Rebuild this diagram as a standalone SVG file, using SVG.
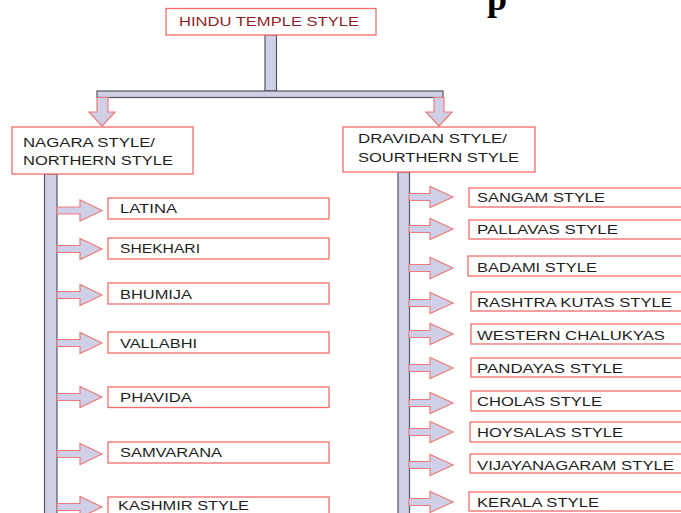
<svg xmlns="http://www.w3.org/2000/svg" xmlns:xlink="http://www.w3.org/1999/xlink" width="681" height="513" viewBox="0 0 681 513">
<style>
.box{fill:#ffffff;stroke:#f36b6b;stroke-width:1.3}
.t{font-family:"Liberation Sans",Arial,sans-serif;font-size:12.5px;fill:#1e1e1e}
.tr{font-family:"Liberation Sans",Arial,sans-serif;font-size:12.5px;fill:#8e1f27}
.bar{fill:#cfcfe8;stroke:#555560;stroke-width:1.2}
.arr{fill:#cfcfe8;stroke:#ec7c7c;stroke-width:1.2}
</style>
<defs>
<path id="aL" d="M57,-3.5 H80 V-10.5 L102,0 L80,10.5 V3.5 H57 Z"/>
<path id="aR" d="M409,-3.5 H430 V-10.5 L453,0 L430,10.5 V3.5 H409 Z"/>
</defs>
<text x="487" y="10" font-family="Liberation Serif,serif" font-weight="bold" font-size="36" fill="#000">p</text>
<g id="connectors">
<rect class="bar" x="265" y="35" width="11.5" height="56"/>
<rect class="bar" x="97" y="91" width="346" height="6.5"/>
<path class="arr" d="M97,97.5 H108 V112 H115 L102,126 L89,112 H97 Z"/>
<path class="arr" d="M434,97.5 H444 V112 H452 L439,126 L426,112 H434 Z"/>
<rect class="bar" x="44.5" y="174" width="12.5" height="345"/>
<rect class="bar" x="398" y="172" width="11.5" height="347"/>
<g class="arr">
<use xlink:href="#aL" y="210.5"/>
<use xlink:href="#aL" y="249"/>
<use xlink:href="#aL" y="295"/>
<use xlink:href="#aL" y="343"/>
<use xlink:href="#aL" y="397"/>
<use xlink:href="#aL" y="454"/>
<use xlink:href="#aL" y="507"/>
<use xlink:href="#aR" y="197"/>
<use xlink:href="#aR" y="229"/>
<use xlink:href="#aR" y="268"/>
<use xlink:href="#aR" y="303"/>
<use xlink:href="#aR" y="334"/>
<use xlink:href="#aR" y="368"/>
<use xlink:href="#aR" y="403"/>
<use xlink:href="#aR" y="432"/>
<use xlink:href="#aR" y="465"/>
<use xlink:href="#aR" y="502"/>
</g>
</g>
<g id="root"><rect class="box" x="166" y="8.5" width="210" height="26.5"/><text class="tr" x="179" y="26" textLength="180" lengthAdjust="spacingAndGlyphs">HINDU TEMPLE STYLE</text></g>
<g id="nagara"><rect class="box" x="12" y="127" width="181" height="47"/><text class="t" x="23" y="147" textLength="132" lengthAdjust="spacingAndGlyphs">NAGARA STYLE/</text><text class="t" x="23" y="165" textLength="150" lengthAdjust="spacingAndGlyphs">NORTHERN STYLE</text></g>
<g id="dravidan"><rect class="box" x="343" y="127" width="192" height="45"/><text class="t" x="358" y="143" textLength="149" lengthAdjust="spacingAndGlyphs">DRAVIDAN STYLE/</text><text class="t" x="358" y="162" textLength="161" lengthAdjust="spacingAndGlyphs">SOURTHERN STYLE</text></g>
<g id="latina"><rect class="box" x="108" y="198" width="221" height="21"/><text class="t" x="120" y="213" textLength="57" lengthAdjust="spacingAndGlyphs">LATINA</text></g>
<g id="shekhari"><rect class="box" x="108" y="238" width="221" height="21"/><text class="t" x="120" y="253" textLength="80" lengthAdjust="spacingAndGlyphs">SHEKHARI</text></g>
<g id="bhumija"><rect class="box" x="108" y="283" width="221" height="21"/><text class="t" x="120" y="298.5" textLength="72" lengthAdjust="spacingAndGlyphs">BHUMIJA</text></g>
<g id="vallabhi"><rect class="box" x="108" y="332" width="221" height="21"/><text class="t" x="120" y="347.5" textLength="77" lengthAdjust="spacingAndGlyphs">VALLABHI</text></g>
<g id="phavida"><rect class="box" x="108" y="387" width="221" height="20.5"/><text class="t" x="120" y="402" textLength="72" lengthAdjust="spacingAndGlyphs">PHAVIDA</text></g>
<g id="samvarana"><rect class="box" x="108" y="442" width="221" height="21"/><text class="t" x="120" y="457" textLength="102" lengthAdjust="spacingAndGlyphs">SAMVARANA</text></g>
<g id="kashmir"><rect class="box" x="108" y="497" width="221" height="22"/><text class="t" x="118" y="510" textLength="131" lengthAdjust="spacingAndGlyphs">KASHMIR STYLE</text></g>
<g id="sangam"><rect class="box" x="469" y="188" width="225" height="19"/><text class="t" x="477" y="202" textLength="128" lengthAdjust="spacingAndGlyphs">SANGAM STYLE</text></g>
<g id="pallavas"><rect class="box" x="469" y="220" width="225" height="19"/><text class="t" x="477" y="234" textLength="141" lengthAdjust="spacingAndGlyphs">PALLAVAS STYLE</text></g>
<g id="badami"><rect class="box" x="468" y="256" width="225" height="20"/><text class="t" x="477" y="271.5" textLength="120" lengthAdjust="spacingAndGlyphs">BADAMI STYLE</text></g>
<g id="rashtrakutas"><rect class="box" x="471" y="292" width="225" height="19"/><text class="t" x="477" y="306.5" textLength="195" lengthAdjust="spacingAndGlyphs">RASHTRA KUTAS STYLE</text></g>
<g id="westernchalukyas"><rect class="box" x="471" y="324" width="225" height="20"/><text class="t" x="477" y="339.5" textLength="188" lengthAdjust="spacingAndGlyphs">WESTERN CHALUKYAS</text></g>
<g id="pandayas"><rect class="box" x="471" y="358" width="225" height="19"/><text class="t" x="477" y="372.5" textLength="146" lengthAdjust="spacingAndGlyphs">PANDAYAS STYLE</text></g>
<g id="cholas"><rect class="box" x="471" y="391" width="225" height="20"/><text class="t" x="477" y="405.5" textLength="125" lengthAdjust="spacingAndGlyphs">CHOLAS STYLE</text></g>
<g id="hoysalas"><rect class="box" x="470" y="422" width="225" height="20"/><text class="t" x="477" y="437" textLength="146" lengthAdjust="spacingAndGlyphs">HOYSALAS STYLE</text></g>
<g id="vijayanagaram"><rect class="box" x="470" y="454" width="225" height="19"/><text class="t" x="477" y="469.5" textLength="197" lengthAdjust="spacingAndGlyphs">VIJAYANAGARAM STYLE</text></g>
<g id="kerala"><rect class="box" x="469" y="492" width="225" height="19"/><text class="t" x="477" y="506.5" textLength="122" lengthAdjust="spacingAndGlyphs">KERALA STYLE</text></g>
</svg>
